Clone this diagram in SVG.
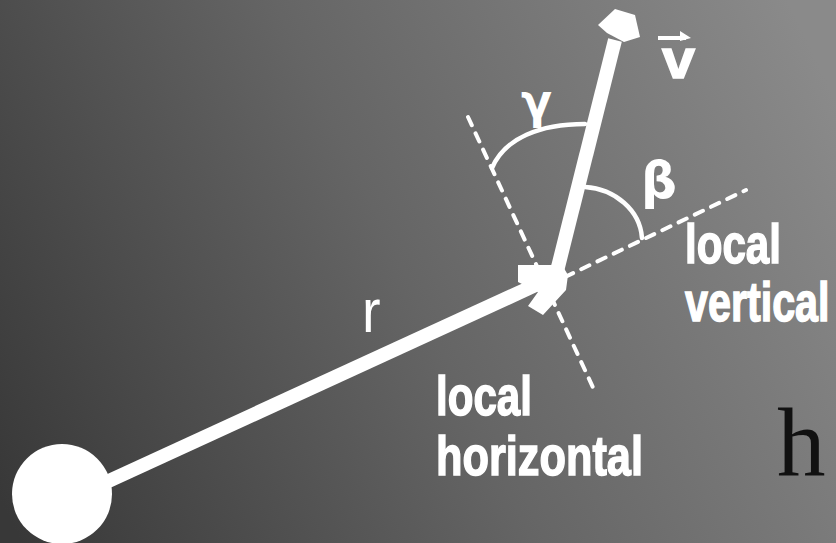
<svg xmlns="http://www.w3.org/2000/svg" width="836" height="543" viewBox="0 0 836 543">
<defs>
<linearGradient id="bg" gradientUnits="userSpaceOnUse" x1="0" y1="500" x2="836" y2="100">
<stop offset="0" stop-color="#383838"/>
<stop offset="0.5" stop-color="#656565"/>
<stop offset="1" stop-color="#8a8a8a"/>
</linearGradient>
<style>
.thick{stroke:#fff;stroke-width:14;fill:none}
.dash{stroke:#fff;stroke-width:4;fill:none;stroke-dasharray:9 9;stroke-linecap:round}
.arc{stroke:#fff;stroke-width:4.5;fill:none;stroke-linecap:round}
.lbl{font-family:"Liberation Sans",Arial,sans-serif;font-weight:bold;fill:#fff;stroke:#fff;stroke-width:1.5;font-size:55px}
.greek{font-family:"DejaVu Sans","Liberation Sans",sans-serif;font-weight:bold;fill:#fff}
</style>
</defs>
<rect x="0" y="0" width="836" height="543" fill="url(#bg)"/>
<g id="connectors">
<line class="dash" x1="468" y1="117" x2="596" y2="394"/>
<line class="dash" x1="565" y1="277" x2="746" y2="190"/>
<line class="thick" x1="100" y1="485" x2="540" y2="283"/>
<polygon fill="#fff" points="518,265 562,265 568,275 566,290 543,315 528,306 538,292 518,282"/>
<line class="thick" x1="556" y1="275" x2="615" y2="40"/>
<polygon fill="#fff" points="598,25 615,9 635,15 640,37 624,42 607,33"/>
<path class="arc" d="M492,168 C505,138 540,124 585,124"/>
<path class="arc" d="M585,187 C615,189 640,210 642,238"/>
</g>
<g id="earth"><circle cx="62" cy="494" r="50" fill="#fff"/></g>
<g id="label-r"><text x="362" y="332" font-family="Liberation Sans, Arial, sans-serif" font-size="62" fill="#fff" transform="translate(362 0) scale(0.9 1) translate(-362 0)">r</text></g>
<g id="label-v">
<line x1="658" y1="38" x2="686" y2="38" stroke="#fff" stroke-width="4"/>
<polygon fill="#fff" points="680,31 691,38 680,41"/>
<text class="lbl" x="662" y="78" font-size="56" textLength="33" lengthAdjust="spacingAndGlyphs">v</text>
</g>
<g id="label-gamma"><text class="greek" x="521" y="118" font-size="48" textLength="31" lengthAdjust="spacingAndGlyphs">γ</text></g>
<g id="label-beta"><text class="greek" x="641" y="198" font-size="52" textLength="36" lengthAdjust="spacingAndGlyphs">β</text></g>
<g id="label-local-horizontal">
<text class="lbl" x="436" y="415" textLength="96" lengthAdjust="spacingAndGlyphs">local</text>
<text class="lbl" x="436" y="475" textLength="207" lengthAdjust="spacingAndGlyphs">horizontal</text>
</g>
<g id="label-local-vertical">
<text class="lbl" x="685" y="263" textLength="96" lengthAdjust="spacingAndGlyphs">local</text>
<text class="lbl" x="0" y="321" transform="translate(685 0) scale(0.75 1)">vertical</text>
</g>
<g id="label-h"><text x="777" y="475" font-family="Liberation Serif, 'Times New Roman', serif" font-size="97" fill="#111">h</text></g>
</svg>
